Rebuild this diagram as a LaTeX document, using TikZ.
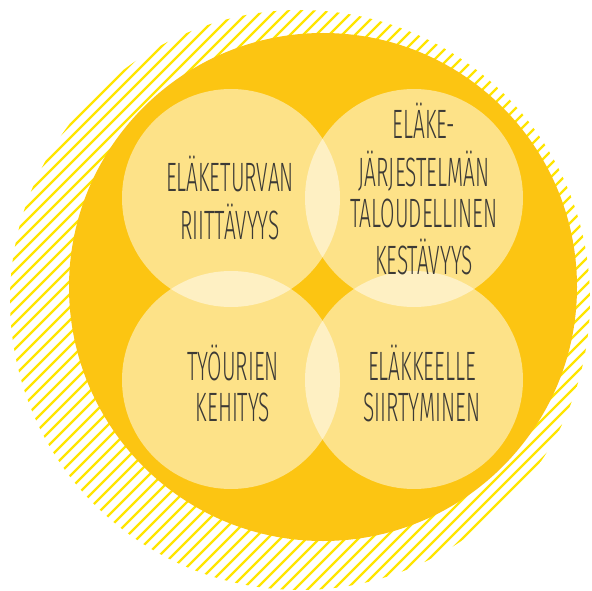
\documentclass[tikz,border=0pt]{standalone}
\usepackage{fontspec}
\newfontfamily\lblfont{Fira Sans}[UprightFont={* Light}]
\definecolor{mainyel}{RGB}{252,197,18}
\definecolor{hatchyel}{RGB}{255,229,0}
\definecolor{txtgray}{RGB}{60,58,54}
\newcommand\lbltext[1]{\scalebox{0.51}[1]{\begin{tabular}{@{}c@{}}#1\end{tabular}}}
\tikzset{
  softcircle/.style={circle, fill=white, fill opacity=0.5, minimum size=218pt, inner sep=0pt},
  lbl/.style={text=txtgray, font=\lblfont\fontsize{41}{40}\selectfont, inner sep=0pt},
  hatch/.style={draw=hatchyel, line width=2.2pt}
}
\begin{document}
\begin{tikzpicture}[x=1pt,y=-1pt]
\useasboundingbox (0,0) rectangle (592,591);
% hatched disc
\begin{scope}
  \clip (300,300) circle (290);
  \foreach \c in {0,13,...,1200} {
    \draw[hatch] (\c,0) -- (\c-600,600);
  }
\end{scope}
% main disc
\fill[mainyel] (323,287) circle (254);
% four translucent circles
\node[softcircle] (tl) at (231,198) {};
\node[softcircle] (tr) at (414,198) {};
\node[softcircle] (bl) at (231,380) {};
\node[softcircle] (br) at (414,380) {};
% labels
\node[lbl] (ltl) at (230,204) {\lbltext{ELÄKETURVAN\\RIITTÄVYYS}};
\node[lbl] (ltr) at (424,195) {\lbltext{ELÄKE-\\JÄRJESTELMÄN\\TALOUDELLINEN\\KESTÄVYYS}};
\node[lbl] (lbl) at (233,389) {\lbltext{TYÖURIEN\\KEHITYS}};
\node[lbl] (lbr) at (422,389) {\lbltext{ELÄKKEELLE\\SIIRTYMINEN}};
\end{tikzpicture}
\end{document}
